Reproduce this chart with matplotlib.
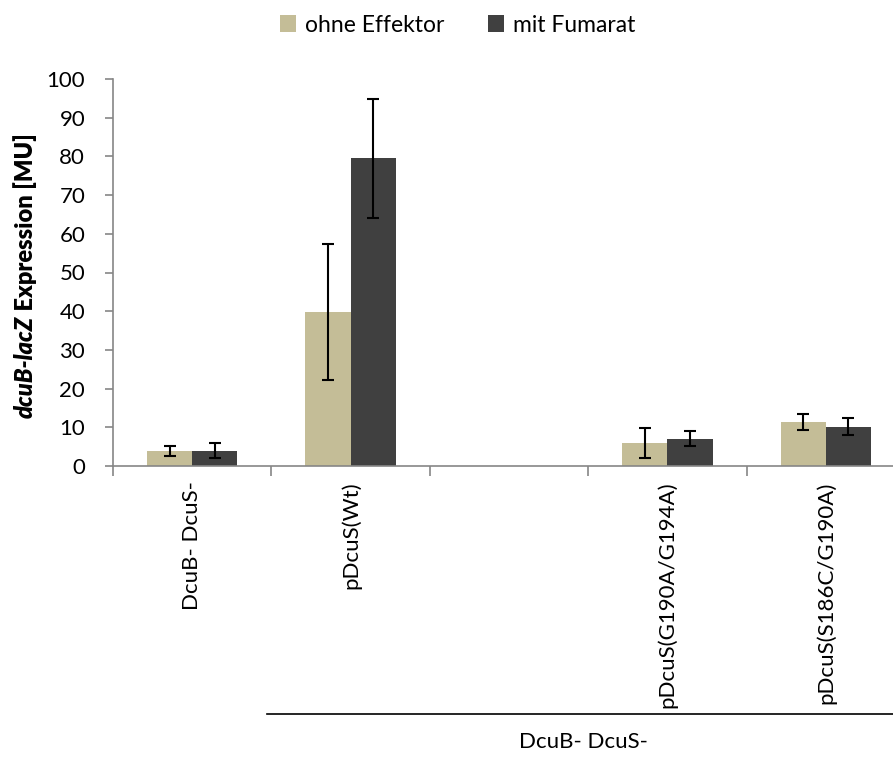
import numpy as np
import matplotlib.pyplot as plt
from matplotlib import transforms

plt.rcParams['font.family'] = ['Lato', 'DejaVu Sans']

categories = ["DcuB- DcuS-", "pDcuS(Wt)", "", "pDcuS(G190A/G194A)", "pDcuS(S186C/G190A)"]
ohne = [3.8, 39.8, np.nan, 5.9, 11.4]
ohne_err = [1.3, 17.5, np.nan, 3.8, 2.1]
mit = [4.0, 79.5, np.nan, 7.1, 10.2]
mit_err = [2.0, 15.3, np.nan, 2.0, 2.2]
series_names = ["ohne Effektor", "mit Fumarat"]
group_label = "DcuB- DcuS-"

c_ohne = "#C4BD97"
c_mit = "#404040"
axis_gray = "#868686"
fs = 16

W, H = 893, 763
fig = plt.figure(figsize=(W / 100, H / 100), dpi=100)
ax = fig.add_axes([113 / W, (H - 466) / H, (905 - 113) / W, (466 - 79) / H])

x = np.arange(len(categories))
bw = 0.285
ekw = dict(ecolor="black", elinewidth=1.5, capsize=4, capthick=1.5)
ax.bar(x - bw / 2, ohne, bw, yerr=ohne_err, color=c_ohne, label=series_names[0],
       error_kw=ekw, zorder=2)
ax.bar(x + bw / 2, mit, bw, yerr=mit_err, color=c_mit, label=series_names[1],
       error_kw=ekw, zorder=2)

ax.set_xlim(-0.5, len(categories) - 0.5)
ax.set_ylim(0, 100)
ax.set_yticks(np.arange(0, 101, 10))
ax.set_xticks(x)
ax.set_xticklabels(categories, rotation=90, va="top", ha="center")
ax.set_xticks(np.arange(-0.5, len(categories), 1.0), minor=True)
ax.tick_params(axis="x", which="major", length=0, pad=11, labelsize=fs)
ax.tick_params(axis="x", which="minor", length=7, width=1.2, color=axis_gray)
ax.tick_params(axis="y", length=6, width=1.2, color=axis_gray, labelsize=fs, pad=14)

for s in ["top", "right"]:
    ax.spines[s].set_visible(False)
for s in ["left", "bottom"]:
    ax.spines[s].set_color(axis_gray)
    ax.spines[s].set_linewidth(1.2)

# y label: italic gene name + bold rest
lab_x = 25 / W
t1 = fig.text(lab_x, (H - 418) / H, "dcuB-lacZ", rotation=90, fontsize=17,
              fontweight="heavy", fontstyle="italic", ha="center", va="bottom")
fig.canvas.draw()
bb = t1.get_window_extent()
fig.text(lab_x, bb.y1 / H, " Expression [MU]", rotation=90, fontsize=17,
         fontweight="heavy", ha="center", va="bottom")

# group bracket under the categories
tr = transforms.blended_transform_factory(ax.transData, fig.transFigure)
ax.plot([0.47, 4.5], [(H - 714) / H] * 2, color="black", lw=1.2,
        transform=tr, clip_on=False)
ax.text(2.47, (H - 742) / H, group_label, transform=tr, ha="center", va="center",
        fontsize=fs)

fig.legend(loc="center", bbox_to_anchor=(458 / W, 1 - 25 / H), ncol=2,
           frameon=False, fontsize=16.5, handlelength=0.7, handleheight=0.7,
           handletextpad=0.4, columnspacing=1.9)

fig.savefig("out.png", dpi=100)
